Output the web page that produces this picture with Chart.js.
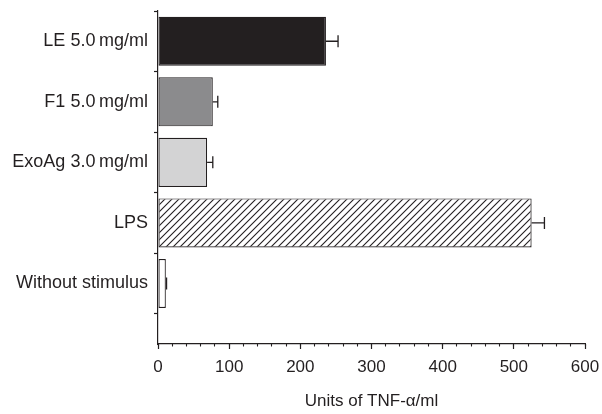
<!DOCTYPE html>
<html>
<head>
<meta charset="utf-8">
<script src="https://cdn.jsdelivr.net/npm/chart.js@4/dist/chart.umd.min.js"></script>
<style>
  html, body { margin: 0; padding: 0; background: #fff; }
  #wrap { width: 602px; height: 414px; }
</style>
</head>
<body>
<div id="wrap"><canvas id="chart" width="602" height="414"></canvas></div>
<script>
// data
const categories = ["LE 5.0\u2009mg/ml", "F1 5.0\u2009mg/ml", "ExoAg 3.0\u2009mg/ml", "LPS", "Without stimulus"];
const tnfValues = [236, 77, 69, 525, 11];
const tnfErrors = [17, 7, 8, 18, 1];
const xTicks = [0, 100, 200, 300, 400, 500, 600];

const ink = "#231f20";
const fontFamily = "'Liberation Sans', Arial, Helvetica, sans-serif";

// diagonal hatch for the LPS bar
function makeHatch() {
    const s = 7;
    const c = document.createElement("canvas");
    c.width = s;
    c.height = s;
    const g = c.getContext("2d");
    g.fillStyle = "#fff";
    g.fillRect(0, 0, s, s);
    g.strokeStyle = ink;
    g.lineWidth = 1.1;
    g.beginPath();
    g.moveTo(-1, s + 1);
    g.lineTo(s + 1, -1);
    g.moveTo(-1, 1);
    g.lineTo(1, -1);
    g.moveTo(s - 1, s + 1);
    g.lineTo(s + 1, s - 1);
    g.stroke();
    return g.createPattern(c, "repeat");
}

const ctx = document.getElementById("chart").getContext("2d");
const fills = ["#231f20", "#8b8b8d", "#d3d3d4", makeHatch(), "#ffffff"];

// error bars: line from the bar end plus a cap
const errorBars = {
    id: "errorBars",
    afterDatasetsDraw(chart) {
        const meta = chart.getDatasetMeta(0);
        const x = chart.scales.x;
        const c = chart.ctx;
        c.save();
        c.strokeStyle = ink;
        c.lineWidth = 1.3;
        meta.data.forEach((bar, i) => {
            const x0 = x.getPixelForValue(tnfValues[i]);
            const x1 = x.getPixelForValue(tnfValues[i] + tnfErrors[i]);
            c.beginPath();
            c.moveTo(x0, bar.y);
            c.lineTo(x1, bar.y);
            c.moveTo(x1, bar.y - 6);
            c.lineTo(x1, bar.y + 6);
            c.stroke();
        });
        c.restore();
    }
};

new Chart(ctx, {
    type: "bar",
    data: {
        datasets: [
            {
                data: tnfValues.map((v, i) => ({ x: v, y: i })),
                backgroundColor: fills,
                borderColor: ink,
                borderWidth: 1.2,
                borderSkipped: false,
                categoryPercentage: 1,
                barPercentage: 0.81,
            },
        ],
    },
    options: {
        indexAxis: "y",
        responsive: false,
        animation: false,
        layout: { padding: { top: 11, right: 17, bottom: 0, left: 0 } },
        plugins: {
            legend: { display: false },
            tooltip: { enabled: false },
        },
        scales: {
            x: {
                type: "linear",
                min: 0,
                max: 600,
                afterBuildTicks: (s) => {
                    s.ticks = xTicks.map((v) => ({ value: v }));
                },
                afterFit: (s) => {
                    s.height = 70;
                    s.paddingLeft = 0;
                    s.paddingRight = 0;
                },
                ticks: {
                    color: ink,
                    padding: 8,
                    font: { family: fontFamily, size: 17 },
                },
                grid: { drawOnChartArea: false, tickLength: 5, tickColor: ink, tickWidth: 1.2 },
                border: { color: ink, width: 1.2 },
                title: {
                    display: true,
                    text: "Units of TNF-\u03b1/ml",
                    color: ink,
                    font: { family: fontFamily, size: 17 },
                    padding: { top: 0, bottom: 2 },
                },
            },
            // minor ticks every 20 units, sitting on the x axis line
            xMinor: {
                type: "linear",
                axis: "x",
                position: { y: 5 },
                min: 0,
                max: 600,
                ticks: { stepSize: 20, display: false },
                grid: { drawOnChartArea: false, tickLength: 2.5, tickColor: ink, tickWidth: 1.1 },
                border: { display: false },
            },
            y: {
                type: "linear",
                reverse: true,
                min: -0.5,
                max: 5,
                offset: false,
                afterBuildTicks: (s) => {
                    s.ticks = categories.map((c, i) => ({ value: i }));
                },
                afterFit: (s) => {
                    s.width = 158;
                    s.paddingTop = 0;
                    s.paddingBottom = 0;
                },
                ticks: {
                    color: ink,
                    padding: 6,
                    font: { family: fontFamily, size: 18 },
                    callback: (v) => categories[v],
                },
                grid: { offset: true, drawOnChartArea: false, tickLength: 4, tickColor: ink, tickWidth: 1.2 },
                border: { color: ink, width: 1.2 },
            },
        },
    },
    plugins: [errorBars],
});
</script>
</body>
</html>
